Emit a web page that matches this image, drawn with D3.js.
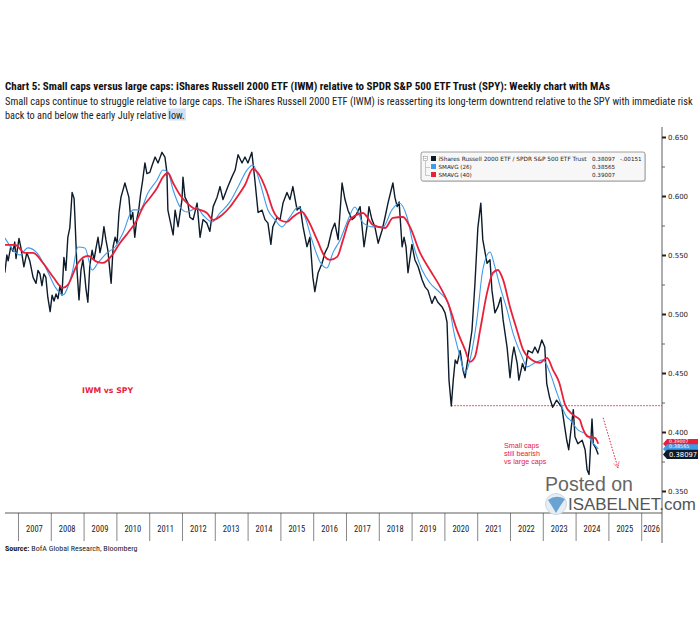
<!DOCTYPE html>
<html><head><meta charset="utf-8">
<script src="https://cdn.jsdelivr.net/npm/d3@7"></script>
<style>body{margin:0;background:#fff}</style>
</head><body>
<svg id="c" width="700" height="630" xmlns="http://www.w3.org/2000/svg"></svg>
<script>
// ---- DATA ----
const ratioT=[2006.60,2006.66,2006.70,2006.78,2006.85,2006.90,2006.94,2007.03,2007.09,2007.18,2007.27,2007.36,2007.46,2007.55,2007.61,2007.67,2007.73,2007.79,2007.85,2007.91,2007.98,2008.04,2008.10,2008.16,2008.22,2008.28,2008.34,2008.40,2008.46,2008.52,2008.58,2008.65,2008.71,2008.74,2008.80,2008.86,2008.92,2008.98,2009.04,2009.07,2009.13,2009.19,2009.26,2009.32,2009.38,2009.44,2009.50,2009.56,2009.62,2009.68,2009.74,2009.80,2009.84,2009.90,2009.96,2010.02,2010.08,2010.14,2010.20,2010.26,2010.32,2010.38,2010.44,2010.50,2010.56,2010.62,2010.68,2010.74,2010.80,2010.87,2010.93,2011.02,2011.09,2011.18,2011.27,2011.39,2011.48,2011.54,2011.57,2011.63,2011.73,2011.79,2011.88,2012.00,2012.03,2012.09,2012.18,2012.24,2012.34,2012.46,2012.55,2012.64,2012.76,2012.85,2012.95,2013.07,2013.16,2013.25,2013.40,2013.52,2013.62,2013.71,2013.83,2013.92,2014.01,2014.13,2014.22,2014.32,2014.44,2014.53,2014.62,2014.71,2014.77,2014.90,2014.99,2015.08,2015.20,2015.29,2015.38,2015.51,2015.60,2015.69,2015.81,2015.90,2015.99,2016.05,2016.15,2016.27,2016.36,2016.45,2016.57,2016.66,2016.76,2016.88,2016.97,2017.06,2017.18,2017.27,2017.43,2017.55,2017.64,2017.70,2017.79,2017.88,2017.98,2018.10,2018.19,2018.28,2018.43,2018.49,2018.56,2018.62,2018.71,2018.77,2018.83,2018.89,2019.01,2019.10,2019.20,2019.32,2019.41,2019.50,2019.62,2019.71,2019.80,2019.93,2020.02,2020.08,2020.14,2020.21,2020.27,2020.33,2020.39,2020.48,2020.57,2020.63,2020.72,2020.84,2020.93,2021.02,2021.11,2021.17,2021.30,2021.39,2021.45,2021.54,2021.63,2021.72,2021.79,2021.91,2022.00,2022.07,2022.12,2022.22,2022.27,2022.38,2022.46,2022.55,2022.68,2022.76,2022.85,2022.97,2023.06,2023.12,2023.21,2023.30,2023.42,2023.58,2023.67,2023.73,2023.79,2023.93,2023.98,2024.07,2024.20,2024.29,2024.35,2024.41,2024.50,2024.54,2024.62,2024.69];
const ratioV=[0.535,0.550,0.545,0.557,0.553,0.561,0.547,0.564,0.556,0.540,0.552,0.545,0.531,0.526,0.537,0.534,0.524,0.534,0.531,0.514,0.502,0.516,0.511,0.517,0.513,0.524,0.516,0.548,0.537,0.565,0.573,0.603,0.598,0.579,0.537,0.512,0.537,0.546,0.531,0.522,0.510,0.541,0.554,0.546,0.556,0.565,0.552,0.560,0.574,0.563,0.554,0.537,0.526,0.557,0.565,0.560,0.586,0.599,0.605,0.611,0.605,0.599,0.580,0.586,0.565,0.580,0.588,0.602,0.613,0.628,0.619,0.620,0.626,0.633,0.628,0.637,0.633,0.620,0.588,0.580,0.567,0.588,0.574,0.597,0.616,0.599,0.594,0.582,0.580,0.594,0.565,0.580,0.577,0.570,0.591,0.599,0.608,0.597,0.608,0.616,0.622,0.635,0.628,0.633,0.628,0.637,0.614,0.586,0.588,0.580,0.577,0.559,0.574,0.582,0.580,0.594,0.603,0.597,0.608,0.588,0.591,0.574,0.557,0.565,0.531,0.519,0.535,0.543,0.552,0.557,0.571,0.577,0.563,0.611,0.597,0.588,0.580,0.582,0.591,0.557,0.574,0.591,0.580,0.574,0.560,0.571,0.582,0.594,0.611,0.599,0.591,0.595,0.557,0.565,0.557,0.535,0.559,0.546,0.540,0.529,0.523,0.520,0.509,0.515,0.510,0.506,0.501,0.493,0.444,0.422,0.444,0.461,0.458,0.469,0.452,0.446,0.463,0.486,0.525,0.573,0.594,0.563,0.543,0.546,0.520,0.501,0.506,0.514,0.495,0.472,0.446,0.464,0.472,0.458,0.444,0.458,0.452,0.469,0.467,0.472,0.467,0.478,0.472,0.441,0.429,0.421,0.427,0.421,0.404,0.393,0.385,0.419,0.396,0.390,0.393,0.385,0.368,0.364,0.411,0.390,0.386,0.38097];

const ma26T=[2006.60,2006.85,2007.06,2007.30,2007.58,2007.88,2008.13,2008.37,2008.65,2008.83,2009.04,2009.26,2009.44,2009.71,2009.96,2010.20,2010.51,2010.72,2010.96,2011.24,2011.42,2011.57,2011.73,2011.94,2012.15,2012.46,2012.64,2012.91,2013.16,2013.46,2013.71,2013.98,2014.16,2014.38,2014.62,2014.84,2015.05,2015.29,2015.54,2015.75,2015.96,2016.21,2016.42,2016.60,2016.82,2017.06,2017.27,2017.52,2017.82,2018.13,2018.40,2018.62,2018.86,2019.04,2019.32,2019.56,2019.87,2020.11,2020.32,2020.48,2020.63,2020.78,2020.99,2021.17,2021.39,2021.54,2021.70,2021.91,2022.09,2022.37,2022.52,2022.76,2023.01,2023.22,2023.43,2023.73,2023.83,2024.07,2024.35,2024.53,2024.69];
const ma26V=[0.5645,0.5543,0.550,0.556,0.5518,0.5373,0.523,0.5162,0.5348,0.5568,0.556,0.5373,0.5433,0.5518,0.5568,0.5687,0.5882,0.5882,0.6026,0.6136,0.622,0.6203,0.6051,0.5907,0.5865,0.5899,0.5839,0.578,0.5856,0.595,0.6077,0.622,0.6263,0.611,0.5882,0.5797,0.5738,0.5822,0.5907,0.5822,0.5628,0.5441,0.539,0.5518,0.5628,0.5797,0.5907,0.5772,0.5738,0.5738,0.5882,0.5941,0.5822,0.5602,0.5373,0.5263,0.5179,0.5094,0.4806,0.4636,0.4501,0.4611,0.495,0.5373,0.5526,0.5399,0.523,0.5035,0.484,0.4636,0.4552,0.4586,0.4611,0.4501,0.4332,0.4128,0.4103,0.4018,0.3976,0.3908,0.38565];

const ma40T=[2006.60,2006.91,2007.21,2007.46,2007.76,2008.07,2008.37,2008.52,2008.83,2009.13,2009.41,2009.59,2009.87,2010.11,2010.35,2010.63,2010.81,2011.02,2011.24,2011.42,2011.57,2011.73,2011.94,2012.15,2012.34,2012.55,2012.76,2012.95,2013.22,2013.46,2013.68,2013.92,2014.16,2014.32,2014.59,2014.77,2014.99,2015.20,2015.38,2015.66,2015.84,2016.12,2016.36,2016.51,2016.73,2016.91,2017.12,2017.52,2017.82,2018.19,2018.43,2018.74,2018.95,2019.26,2019.56,2019.87,2020.11,2020.38,2020.63,2020.78,2020.93,2021.09,2021.30,2021.48,2021.63,2021.79,2022.00,2022.21,2022.40,2022.67,2022.91,2023.13,2023.31,2023.50,2023.68,2023.92,2024.13,2024.20,2024.38,2024.59,2024.69];
const ma40V=[0.5585,0.5585,0.5518,0.5518,0.5433,0.5314,0.5221,0.5247,0.5433,0.5492,0.5441,0.5433,0.550,0.5602,0.5687,0.5797,0.5907,0.5983,0.6068,0.6161,0.6195,0.611,0.6009,0.5941,0.5899,0.5882,0.5856,0.5797,0.5839,0.5907,0.5992,0.6093,0.6229,0.6195,0.6034,0.5882,0.5797,0.578,0.5822,0.5865,0.5797,0.5628,0.5484,0.5458,0.5484,0.5628,0.5797,0.5856,0.5755,0.5729,0.5814,0.5822,0.5738,0.5518,0.5373,0.523,0.5094,0.4865,0.4696,0.4594,0.4636,0.4865,0.5179,0.5348,0.5373,0.5289,0.506,0.4865,0.4696,0.4611,0.4586,0.4628,0.4526,0.4420,0.4230,0.4145,0.4103,0.4044,0.396,0.395,0.39007];

const years=[2007,2008,2009,2010,2011,2012,2013,2014,2015,2016,2017,2018,2019,2020,2021,2022,2023,2024,2025,2026];
const yTicks=[0.35,0.40,0.45,0.50,0.55,0.60,0.65];
const yMinor=[0.375,0.425,0.475,0.525,0.575,0.625];
const legendRows=[
  {label:"iShares Russell 2000 ETF / SPDR S&P 500 ETF Trust", value:"0.38097", chg:"-.00151", color:"#0d1b2a"},
  {label:"SMAVG (26)", value:"0.38565", chg:"", color:"#3d9be9"},
  {label:"SMAVG (40)", value:"0.39007", chg:"", color:"#e8203a"}
];
const lastTags=[{v:0.39007,color:"#e8203a"},{v:0.38565,color:"#3d9be9"},{v:0.38097,color:"#0d1b2a"}];
const supportLevel=0.4223, supportStart=2020.21;

// ---- DRAW ----
const svg=d3.select('#c');
svg.append('rect').attr('width',700).attr('height',630).attr('fill','#fff');
const L=5,R=662,T=127,B=513;
const x=d3.scaleLinear().domain([2006.604,2026.634]).range([L,R]);
const y=d3.scaleLinear().domain([0.35,0.65]).range([491,137]);
const cond='"Liberation Sans Narrow","Roboto Condensed","Open Sans",Arial,sans-serif';

function fit(sel,target,base){
  sel.attr('font-size',base);
  const w=sel.node().getComputedTextLength();
  sel.attr('font-size',(base*target/w).toFixed(2));
  return sel;
}

// Titles
fit(svg.append('text').attr('x',5).attr('y',90).attr('font-family',cond).attr('font-weight','bold').attr('fill','#111')
  .text('Chart 5: Small caps versus large caps: iShares Russell 2000 ETF (IWM) relative to SPDR S&P 500 ETF Trust (SPY): Weekly chart with MAs'),605,11.5);
fit(svg.append('text').attr('x',5).attr('y',105).attr('font-family',cond).attr('fill','#222')
  .text('Small caps continue to struggle relative to large caps. The iShares Russell 2000 ETF (IWM) is reasserting its long-term downtrend relative to the SPY with immediate risk'),688,11);
const hl=svg.append('rect').attr('fill','#cfe2f6');
const l2=svg.append('text').attr('x',5).attr('y',118.5).attr('font-family',cond).attr('fill','#222');
const part1='back to and below the early July relative ';
l2.append('tspan').text(part1);
l2.append('tspan').text('low.');
fit(l2,180,11);
{
  const n=l2.node(), i0=part1.length, i1=part1.length+3;
  const a=n.getExtentOfChar(i0), b=n.getExtentOfChar(i1);
  hl.attr('x',a.x-1).attr('y',108.5).attr('width',b.x+b.width-a.x+2).attr('height',12);
}

svg.append('clipPath').attr('id','clip').append('rect').attr('x',L).attr('y',T).attr('width',R-L).attr('height',B-T);

// Axes
const axisFont='"DejaVu Sans",Arial,sans-serif';
const gy=svg.append('g').attr('transform',`translate(${R},0)`)
  .call(d3.axisRight(y).tickValues(yTicks).tickSize(4).tickPadding(2).tickFormat(d3.format('.3f')));
gy.select('.domain').remove();
gy.selectAll('.tick line').attr('stroke','#222').attr('stroke-width',2);
gy.selectAll('.tick text').attr('font-family',axisFont).attr('font-size',7).attr('fill','#222');
const gym=svg.append('g').attr('transform',`translate(${R},0)`)
  .call(d3.axisRight(y).tickValues(yMinor).tickSize(3).tickFormat(''));
gym.select('.domain').remove();
gym.selectAll('.tick line').attr('stroke','#444').attr('stroke-width',0.8);
svg.append('line').attr('x1',R).attr('x2',R).attr('y1',T).attr('y2',B+30).attr('stroke','#333').attr('stroke-width',0.8);

const gx=svg.append('g').attr('transform',`translate(0,${B})`)
  .call(d3.axisBottom(x).tickValues(years).tickSize(28).tickFormat(''));
gx.select('.domain').remove();
gx.selectAll('.tick line').attr('stroke','#555').attr('stroke-width',0.7);
svg.append('line').attr('x1',L).attr('x2',R).attr('y1',B).attr('y2',B).attr('stroke','#333').attr('stroke-width',0.8);
svg.append('g').selectAll('text').data(years).join('text')
  .attr('x',d=>(x(d)+Math.min(x(d+1),R))/2).attr('y',B+19)
  .attr('text-anchor','middle').attr('font-family',cond).attr('font-size',8.5).attr('fill','#222').text(d=>d);

// Support dotted line
svg.append('line').attr('x1',x(supportStart)).attr('x2',R).attr('y1',y(supportLevel)).attr('y2',y(supportLevel))
  .attr('stroke','#e8203a').attr('stroke-width',1).attr('stroke-dasharray','1.5,1.5');

// Lines
const plot=svg.append('g').attr('clip-path','url(#clip)');
const mk=(T_,V_)=>T_.map((t,i)=>[t,V_[i]]);
const lineL=d3.line().x(d=>x(d[0])).y(d=>y(d[1]));
const lineS=d3.line().x(d=>x(d[0])).y(d=>y(d[1])).curve(d3.curveMonotoneX);
plot.append('path').datum(mk(ratioT,ratioV)).attr('d',lineL).attr('fill','none').attr('stroke','#0d1b2a').attr('stroke-width',1.4).attr('stroke-linejoin','round');
plot.append('path').datum(mk(ma26T,ma26V)).attr('d',lineS).attr('fill','none').attr('stroke','#3d9be9').attr('stroke-width',1.1);
plot.append('path').datum(mk(ma40T,ma40V)).attr('d',lineS).attr('fill','none').attr('stroke','#e8203a').attr('stroke-width',1.8);

// Arrow
const defs=svg.append('defs');
defs.append('marker').attr('id','arr').attr('viewBox','0 0 10 10').attr('refX',9).attr('refY',5)
  .attr('markerWidth',7).attr('markerHeight',7).attr('orient','auto')
  .append('path').attr('d','M1,1 L9,5 L1,9').attr('fill','none').attr('stroke','#e8203a').attr('stroke-width',1.2).attr('stroke-dasharray','1.5,1');
svg.append('line').attr('x1',x(2024.84)).attr('y1',y(0.412)).attr('x2',x(2025.29)).attr('y2',y(0.3697))
  .attr('stroke','#e8203a').attr('stroke-width',1).attr('stroke-dasharray','1.5,1.5').attr('marker-end','url(#arr)');

// Annotations
fit(svg.append('text').attr('x',82).attr('y',392.5).attr('font-family',axisFont).attr('font-weight','bold')
  .attr('fill','#e8203a').text('IWM vs SPY'),51,7.5);
['Small caps','still bearish','vs large caps'].forEach((s,i)=>{
  svg.append('text').attr('x',504).attr('y',447.5+i*8.4).attr('font-family','"Liberation Sans",Arial,sans-serif')
   .attr('font-size',7.2).attr('fill','#e8203a').text(s);
});

// Legend box
const lg=svg.append('g');
lg.append('rect').attr('x',422).attr('y',153).attr('width',224).attr('height',29).attr('rx',2).attr('fill','#bbb').attr('opacity',0.5);
lg.append('rect').attr('x',421).attr('y',152).attr('width',224).attr('height',29).attr('rx',2).attr('fill','#f7f7f7').attr('stroke','#888').attr('stroke-width',0.8);
lg.append('rect').attr('x',423.5).attr('y',156.5).attr('width',4).attr('height',4).attr('fill','#fff').attr('stroke','#888').attr('stroke-width',0.5);
lg.append('line').attr('x1',424.5).attr('x2',426.5).attr('y1',158.5).attr('y2',158.5).attr('stroke','#666').attr('stroke-width',0.5);
lg.append('path').attr('d','M425.5,161 V175.5 H430 M425.5,167.5 H430').attr('fill','none').attr('stroke','#999').attr('stroke-width',0.5);
legendRows.forEach((r,i)=>{
  const yy=159+i*8;
  lg.append('rect').attr('x',431).attr('y',yy-3).attr('width',5).attr('height',5).attr('fill',r.color);
  const t=lg.append('text').attr('x',438.5).attr('y',yy+1.8).attr('font-family',axisFont).attr('font-size',5.6).attr('fill','#222').text(r.label);
  if(i===0) fit(t,148,5.6);
  lg.append('text').attr('x',592).attr('y',yy+1.8).attr('font-family',axisFont).attr('font-size',5.6).attr('fill','#222').text(r.value);
  if(r.chg) lg.append('text').attr('x',620).attr('y',yy+1.8).attr('font-family',axisFont).attr('font-size',5.6).attr('fill','#222').text(r.chg);
});

// Last value tags: stacked, each later tag drawn over the previous one;
// the partly covered tags show their value in the strip that stays visible.
lastTags.forEach((t,i)=>{
  const yc=y(t.v), h=4.6;
  svg.append('path').attr('d',`M${R+1},${yc} L${R+5},${yc-h} L698,${yc-h} L698,${yc+h} L${R+5},${yc+h} Z`).attr('fill',t.color);
  const next=lastTags[i+1];
  if(next){
    const top=yc-h, bot=y(next.v)-h, fs=Math.max(3.5,(bot-top)*0.9);
    svg.append('text').attr('x',R+7).attr('y',top+fs*0.82).attr('font-family',axisFont).attr('font-size',fs.toFixed(2))
      .attr('fill','#fff').text(d3.format('.5f')(t.v));
  } else {
    svg.append('text').attr('x',R+7).attr('y',yc+2.4).attr('font-family',axisFont).attr('font-size',6.8).attr('fill','#fff').text(d3.format('.5f')(t.v));
  }
});

// Watermark
fit(svg.append('text').attr('x',545).attr('y',491).attr('font-family','"Liberation Sans",Arial,sans-serif')
  .attr('fill','#666').text('Posted on'),88,14);
const wg=svg.append('g');
wg.append('circle').attr('cx',556).attr('cy',504).attr('r',10.5).attr('fill','#e6edf4').attr('stroke','#cdd8e3').attr('stroke-width',1);
wg.append('path').attr('d','M548,500 Q556,494 565,499 Q560,506 556,513 Q552,506 548,500 Z').attr('fill','#4a90c8').attr('opacity',0.8);
fit(svg.append('text').attr('x',568).attr('y',510).attr('font-family','"Liberation Sans",Arial,sans-serif')
  .attr('fill','#555').text('ISABELNET.com'),128,15);

// Source
const src=svg.append('text').attr('x',5).attr('y',551).attr('font-family',cond).attr('font-size',8).attr('fill','#222');
src.append('tspan').attr('font-weight','bold').text('Source:');
src.append('tspan').text(' BofA Global Research, Bloomberg');
</script>
</body></html>
